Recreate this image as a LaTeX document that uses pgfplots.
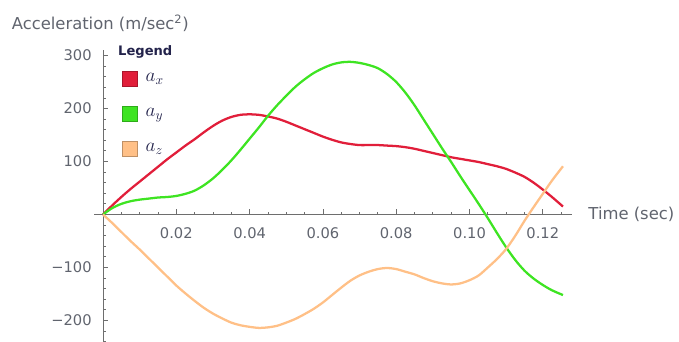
\documentclass[border=0pt]{standalone}
\usepackage{fontspec}
\setmainfont{DejaVu Sans}
\usepackage{pgfplots}
\pgfplotsset{compat=1.18}
\definecolor{cred}{RGB}{225,30,58}
\definecolor{cgreen}{RGB}{62,228,34}
\definecolor{corange}{RGB}{255,192,135}
\definecolor{axgray}{RGB}{110,110,110}
\definecolor{txtgray}{RGB}{96,100,110}
\definecolor{legnavy}{RGB}{35,35,75}
\begin{document}
\begin{tikzpicture}
\path[use as bounding box] (0,0) rectangle (509.25pt,256.5pt);
\begin{axis}[
  at={(70.875pt,0pt)}, anchor=south west,
  scale only axis, width=357.9pt, height=219pt,
  xmin=-0.00232, xmax=0.12788, ymin=-240.6, ymax=310.4,
  axis lines=middle,
  every inner x axis line/.append style={-},
  every inner y axis line/.append style={-},
  axis line style={axgray, line width=0.75pt},
  xtick={0,0.02,0.04,0.06,0.08,0.10,0.12},
  xticklabels={,0.02,0.04,0.06,0.08,0.10,0.12},
  minor xtick={0.005,0.01,...,0.126},
  ytick={-200,-100,0,100,200,300},
  yticklabels={−200,−100,,100,200,300},
  minor ytick={-240,-220,...,300},
  tick align=inside,
  major tick length=3.75pt, minor tick length=2pt,
  tick style={axgray, line width=0.6pt},
  ticklabel style={font=\fontsize{11}{13}\selectfont, text=txtgray},
  xticklabel style={yshift=-6pt},
  yticklabel style={xshift=-5pt},
  xlabel={Time (sec)},
  xlabel style={at={(current axis.right of origin)}, anchor=west, xshift=9pt, font=\fontsize{12.3}{14}\selectfont, text=txtgray},
  ylabel={Acceleration (m/sec\textsuperscript{2})},
  ylabel style={at={(current axis.above origin)}, anchor=south, rotate=0, yshift=10pt, xshift=-2pt, font=\fontsize{12.3}{14}\selectfont, text=txtgray},
  legend style={at={(axis description cs:0.057,0.929)}, anchor=north west, draw=none, fill=none, inner sep=0pt, row sep=14.5pt, font=\fontsize{14}{16}\selectfont, text=legnavy},
  legend cell align=left,
  clip=false,
]
\addplot[cred, line width=1.7pt, smooth,
  legend image code/.code={\draw[draw=cred!75!black, fill=cred, line width=0.5pt] (0pt,-5.6pt) rectangle (11.25pt,5.6pt);}]
  coordinates {(0,0)(0.0025,17)(0.005,33)(0.0075,48)(0.010,62)(0.0125,76)(0.015,90)(0.0175,104)(0.020,117)(0.0225,130)(0.025,142)(0.0275,155)(0.030,167)(0.0325,177)(0.035,184)(0.0375,188)(0.040,189)(0.0425,188)(0.045,185)(0.0475,181)(0.050,175)(0.0525,168)(0.055,161)(0.0575,154)(0.060,147)(0.0625,141)(0.065,136)(0.0675,133)(0.070,131)(0.0725,131)(0.075,131)(0.0775,130)(0.080,129)(0.0825,127)(0.085,124)(0.0875,120)(0.090,116)(0.0925,112)(0.095,108)(0.0975,105)(0.100,102)(0.1025,99)(0.105,95)(0.1075,91)(0.110,86)(0.1125,79)(0.115,71)(0.1175,60)(0.120,47)(0.1225,33)(0.1255,15)};
\addlegendentry{\kern4pt$a_x$}
\addplot[cgreen, line width=1.7pt, smooth,
  legend image code/.code={\draw[draw=cgreen!75!black, fill=cgreen, line width=0.5pt] (0pt,-5.6pt) rectangle (11.25pt,5.6pt);}]
  coordinates {(0,0)(0.0025,12)(0.005,20)(0.0075,25)(0.010,28)(0.0125,30)(0.015,32)(0.0175,33)(0.020,35)(0.0225,39)(0.025,45)(0.0275,55)(0.030,68)(0.0325,84)(0.035,102)(0.0375,122)(0.040,143)(0.0425,164)(0.045,186)(0.0475,206)(0.050,224)(0.0525,241)(0.055,255)(0.0575,267)(0.060,276)(0.0625,283)(0.065,287)(0.0675,288)(0.070,286)(0.0725,282)(0.075,276)(0.0775,265)(0.080,250)(0.0825,230)(0.085,206)(0.0875,179)(0.090,152)(0.0925,125)(0.095,99)(0.0975,72)(0.100,46)(0.1025,20)(0.105,-7)(0.1075,-35)(0.110,-62)(0.1125,-86)(0.115,-106)(0.1175,-121)(0.120,-133)(0.1225,-143)(0.1255,-152)};
\addlegendentry{\kern4pt$a_y$}
\addplot[corange, line width=1.7pt, smooth,
  legend image code/.code={\draw[draw=corange!75!black, fill=corange, line width=0.5pt] (0pt,-5.6pt) rectangle (11.25pt,5.6pt);}]
  coordinates {(0,0)(0.0025,-16)(0.005,-33)(0.0075,-50)(0.010,-66)(0.0125,-83)(0.015,-100)(0.0175,-117)(0.020,-134)(0.0225,-149)(0.025,-163)(0.0275,-176)(0.030,-187)(0.0325,-196)(0.035,-204)(0.0375,-209)(0.040,-212)(0.0425,-214)(0.045,-213)(0.0475,-210)(0.050,-204)(0.0525,-197)(0.055,-188)(0.0575,-178)(0.060,-166)(0.0625,-152)(0.065,-138)(0.0675,-125)(0.070,-115)(0.0725,-108)(0.075,-103)(0.0775,-101)(0.080,-103)(0.0825,-108)(0.085,-113)(0.0875,-120)(0.090,-126)(0.0925,-130)(0.095,-132)(0.0975,-130)(0.100,-124)(0.1025,-115)(0.105,-100)(0.1075,-84)(0.110,-65)(0.1125,-40)(0.115,-12)(0.1175,14)(0.120,39)(0.1225,64)(0.1255,91)};
\addlegendentry{\kern4pt$a_z$}
\node[anchor=west, inner sep=0pt, font=\fontsize{9.8}{12}\selectfont\bfseries, text=legnavy] at (rel axis cs:0.0492,0.993) {Legend};
\end{axis}
\end{tikzpicture}
\end{document}
